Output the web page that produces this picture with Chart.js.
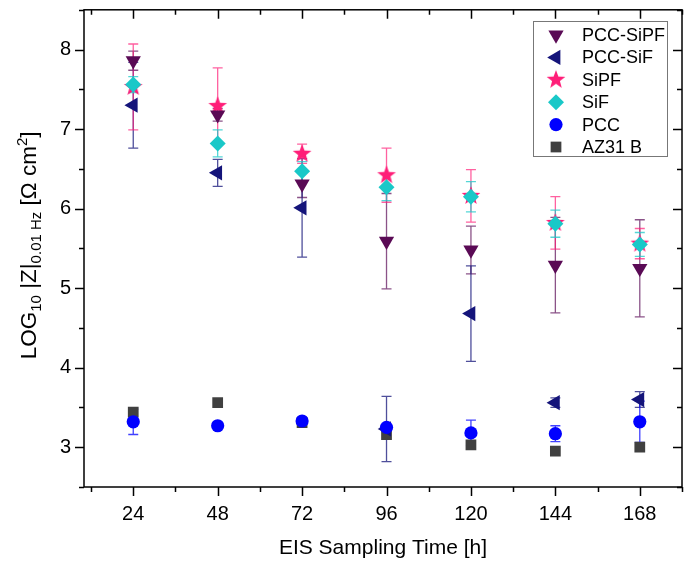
<!DOCTYPE html>
<html>
<head>
<meta charset="utf-8">
<script src="https://cdn.jsdelivr.net/npm/chart.js@4.4.0/dist/chart.umd.min.js"></script>
<style>
  html, body { margin: 0; padding: 0; background: #fff; }
  #wrap { width: 693px; height: 562px; }
</style>
</head>
<body>
<div id="wrap"><canvas id="chart" width="693" height="562"></canvas></div>
<script>
// Sampling times [h]
const TIMES = [24, 48, 72, 96, 120, 144, 168];
const X_TICKS = [24, 48, 72, 96, 120, 144, 168];
const Y_TICKS = [3, 4, 5, 6, 7, 8];

// LOG10 |Z| at 0.01 Hz
const PCC_SIPF = [7.86, 7.18, 6.31, 5.59, 5.48, 5.29, 5.25];
const PCC_SIPF_ERR = [0.12, 0.08, 0.17, 0.60, 0.30, 0.60, 0.61];

const PCC_SIF = [7.30, 6.45, 6.01, 3.23, 4.68, 3.56, 3.60];
const PCC_SIF_ERR = [0.54, 0.17, 0.62, 0.41, 0.60, 0.06, 0.10];

const SIPF = [7.53, 7.29, 6.69, 6.42, 6.16, 5.82, 5.56];
const SIPF_ERR = [0.54, 0.48, 0.12, 0.34, 0.33, 0.33, 0.19];

const SIF = [7.56, 6.82, 6.47, 6.27, 6.15, 5.81, 5.55];
const SIF_ERR = [0.10, 0.17, 0.12, 0.17, 0.19, 0.17, 0.15];

const PCC = [3.32, 3.27, 3.33, 3.25, 3.18, 3.17, 3.32];
const PCC_ERR = [0.16, 0.03, 0.03, 0.03, 0.16, 0.10, 0.26];

const AZ31 = [3.44, 3.56, 3.31, 3.16, 3.03, 2.95, 3.00];

const FONT = 'Liberation Sans, Arial, sans-serif';

// filled five-point star used as a point style
function makeStar(color, outer, inner) {
    const size = Math.ceil(outer * 2) + 2;
    const c = document.createElement('canvas');
    c.width = size;
    c.height = size;
    const g = c.getContext('2d');
    g.fillStyle = color;
    g.beginPath();
    for (let i = 0; i < 10; i++) {
        const r = i % 2 === 0 ? outer : inner;
        const a = -Math.PI / 2 + i * Math.PI / 5;
        const px = size / 2 + r * Math.cos(a);
        const py = size / 2 + r * Math.sin(a);
        if (i === 0) g.moveTo(px, py); else g.lineTo(px, py);
    }
    g.closePath();
    g.fill();
    return c;
}

function points(values) {
    return values.map((v, i) => ({ x: TIMES[i], y: v }));
}

function series(label, values, errors, color, errColor, style, radius, rotation, order) {
    return {
        label: label,
        data: points(values),
        errors: errors,
        errColor: errColor,
        backgroundColor: color,
        borderColor: color,
        pointStyle: style,
        pointRadius: radius,
        pointRotation: rotation,
        pointBorderWidth: 0,
        showLine: false,
        order: order
    };
}

const datasets = [
    series('PCC-SiPF', PCC_SIPF, PCC_SIPF_ERR, '#5a0a55', 'rgba(90,10,85,0.7)', 'triangle', 8.8, 180, 2),
    series('PCC-SiF', PCC_SIF, PCC_SIF_ERR, '#14147a', 'rgba(20,20,122,0.75)', 'triangle', 8.8, -90, 4),
    series('SiPF', SIPF, SIPF_ERR, '#ff1e78', 'rgba(255,30,120,0.7)', makeStar('#ff1e78', 9.8, 4.1), 9.8, 0, 3),
    series('SiF', SIF, SIF_ERR, '#19c8c8', 'rgba(25,200,200,0.75)', 'rectRot', 8, 0, 1),
    series('PCC', PCC, PCC_ERR, '#0000ff', 'rgba(0,0,255,0.75)', 'circle', 6.6, 0, 0),
    series('AZ31 B', AZ31, null, '#404040', 'rgba(64,64,64,0.75)', 'rect', 7.6, 0, 5)
];

// error bars, drawn under the markers
const errorBars = {
    id: 'errorBars',
    beforeDatasetsDraw(chart) {
        const ctx = chart.ctx;
        const xs = chart.scales.x, ys = chart.scales.y;
        ctx.save();
        ctx.lineWidth = 1.3;
        chart.data.datasets.forEach(ds => {
            if (!ds.errors) return;
            ctx.strokeStyle = ds.errColor;
            ds.data.forEach((p, i) => {
                const e = ds.errors[i];
                if (!e) return;
                const x = xs.getPixelForValue(p.x);
                const y1 = ys.getPixelForValue(p.y + e);
                const y2 = ys.getPixelForValue(p.y - e);
                ctx.beginPath();
                ctx.moveTo(x, y1); ctx.lineTo(x, y2);
                ctx.moveTo(x - 5, y1); ctx.lineTo(x + 5, y1);
                ctx.moveTo(x - 5, y2); ctx.lineTo(x + 5, y2);
                ctx.stroke();
            });
        });
        ctx.restore();
    }
};

// frame with major/minor ticks (outward left/bottom, inward top/right)
const frame = {
    id: 'frame',
    afterDraw(chart) {
        const ctx = chart.ctx;
        const a = chart.chartArea;
        const xs = chart.scales.x, ys = chart.scales.y;
        ctx.save();
        ctx.strokeStyle = '#000';
        ctx.lineWidth = 1.5;
        ctx.strokeRect(a.left, a.top, a.right - a.left, a.bottom - a.top);
        ctx.beginPath();
        for (let v = xs.min; v <= xs.max; v += 1) {
            if (v % 12 !== 0) continue;
            const len = v % 24 === 0 ? 9 : 5;
            const x = Math.round(xs.getPixelForValue(v)) + 0.5;
            ctx.moveTo(x, a.bottom); ctx.lineTo(x, a.bottom + len);
            ctx.moveTo(x, a.top); ctx.lineTo(x, a.top + len);
        }
        for (let v = Math.ceil(ys.min * 2) / 2; v <= ys.max; v += 0.5) {
            const len = Number.isInteger(v) ? 9 : 5;
            const y = Math.round(ys.getPixelForValue(v)) + 0.5;
            ctx.moveTo(a.left, y); ctx.lineTo(a.left - len, y);
            ctx.moveTo(a.right, y); ctx.lineTo(a.right - len, y);
        }
        ctx.stroke();
        ctx.restore();
    }
};

// rotated y title with sub/superscripts
const yTitle = {
    id: 'yTitle',
    afterDraw(chart) {
        const ctx = chart.ctx;
        const a = chart.chartArea;
        const main = '22.5px ' + FONT, small = '15px ' + FONT;
        const parts = [
            { t: 'LOG', f: main, dy: 0 },
            { t: '10', f: small, dy: 5 },
            { t: ' |Z|', f: main, dy: 0 },
            { t: '0.01 Hz', f: small, dy: 5 },
            { t: ' [\u03A9 cm', f: main, dy: 0 },
            { t: '2', f: small, dy: -9 },
            { t: ']', f: main, dy: 0 }
        ];
        ctx.save();
        let total = 0;
        parts.forEach(p => { ctx.font = p.f; p.w = ctx.measureText(p.t).width; total += p.w; });
        ctx.translate(36, (a.top + a.bottom) / 2 - 3);
        ctx.rotate(-Math.PI / 2);
        ctx.fillStyle = '#000';
        ctx.textBaseline = 'alphabetic';
        let x = -total / 2;
        parts.forEach(p => {
            ctx.font = p.f;
            ctx.fillText(p.t, x, p.dy);
            x += p.w;
        });
        ctx.restore();
    }
};

// legend box inside the plot, top right
const legendBox = {
    id: 'legendBox',
    afterDraw(chart) {
        const ctx = chart.ctx;
        const left = 533.5, top = 21.5, w = 134, h = 135;
        ctx.save();
        ctx.fillStyle = '#fff';
        ctx.fillRect(left, top, w, h);
        ctx.strokeStyle = '#777';
        ctx.lineWidth = 1;
        ctx.strokeRect(left, top, w, h);
        ctx.font = '18px ' + FONT;
        ctx.textBaseline = 'middle';
        chart.data.datasets.forEach((ds, i) => {
            const y = top + 13.5 + i * 22.4;
            ctx.fillStyle = ds.backgroundColor;
            Chart.helpers.drawPoint(ctx, {
                pointStyle: ds.pointStyle,
                rotation: ds.pointRotation,
                radius: ds.pointRadius,
                borderWidth: 0
            }, 556, y);
            ctx.fillStyle = '#000';
            ctx.fillText(ds.label, 582, y + 1);
        });
        ctx.restore();
    }
};

function noPad(s) {
    s.paddingTop = 0;
    s.paddingBottom = 0;
    s.paddingLeft = 0;
    s.paddingRight = 0;
}

new Chart(document.getElementById('chart'), {
    type: 'scatter',
    data: { datasets: datasets },
    options: {
        responsive: false,
        animation: false,
        events: [],
        layout: { padding: { top: 7, right: 11, left: 0, bottom: 0 } },
        plugins: {
            legend: { display: false },
            tooltip: { enabled: false }
        },
        scales: {
            x: {
                type: 'linear',
                min: 10,
                max: 180,
                afterBuildTicks: s => { s.ticks = X_TICKS.map(v => ({ value: v })); },
                afterFit: s => { s.height = 75; noPad(s); },
                grid: { display: false, drawTicks: false },
                border: { display: false },
                ticks: {
                    color: '#000',
                    padding: 15,
                    maxRotation: 0,
                    autoSkip: false,
                    font: { family: FONT, size: 20 }
                },
                title: {
                    display: true,
                    text: 'EIS Sampling Time [h]',
                    color: '#000',
                    padding: { top: 0, bottom: 1 },
                    font: { family: FONT, size: 21 }
                }
            },
            y: {
                min: 2.5,
                max: 8.5,
                afterBuildTicks: s => { s.ticks = Y_TICKS.map(v => ({ value: v })); },
                afterFit: s => { s.width = 84; noPad(s); },
                grid: { display: false, drawTicks: false },
                border: { display: false },
                ticks: {
                    color: '#000',
                    padding: 13,
                    font: { family: FONT, size: 20 }
                }
            }
        }
    },
    plugins: [errorBars, frame, yTitle, legendBox]
});
</script>
</body>
</html>
